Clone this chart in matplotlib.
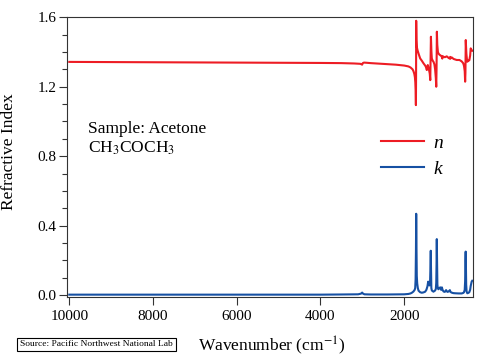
import matplotlib
matplotlib.use("Agg")
import matplotlib.pyplot as plt
from matplotlib.ticker import MultipleLocator, FixedLocator

plt.rcParams['font.family'] = ['Liberation Serif', 'DejaVu Serif']
plt.rcParams['mathtext.fontset'] = 'stix'

# ---- data (wavenumber in cm^-1) ----
n_wavenumber = [10000, 9000, 8000, 7000, 6000, 5000, 4000, 3500, 3200, 3050, 3020,
                3005, 2990, 2960, 2900, 2800, 2600, 2400, 2200, 2000, 1900, 1850,
                1800, 1780, 1760, 1745, 1735, 1727, 1721, 1717, 1714, 1708, 1700,
                1683, 1650, 1619, 1580, 1540, 1500, 1484, 1460, 1437, 1410, 1390,
                1378, 1372, 1362, 1350, 1341, 1320, 1302, 1280, 1262, 1245, 1235,
                1228, 1220, 1210, 1195, 1183, 1160, 1143, 1120, 1103, 1090, 1080,
                1064, 1030, 984, 940, 910, 903, 895, 865, 820, 746, 680, 627, 590,
                572, 555, 545, 538, 530, 525, 515, 503, 493, 470, 446, 425, 412,
                400, 389, 375]
n_values = [1.343, 1.342, 1.341, 1.340, 1.339, 1.338, 1.337, 1.336, 1.334, 1.332, 1.329,
            1.327, 1.336, 1.339, 1.338, 1.336, 1.333, 1.330, 1.327, 1.322, 1.317, 1.311,
            1.300, 1.290, 1.275, 1.255, 1.225, 1.180, 1.094, 1.250, 1.580, 1.470, 1.430,
            1.411, 1.385, 1.363, 1.350, 1.335, 1.322, 1.315, 1.296, 1.325, 1.300, 1.275,
            1.238, 1.330, 1.488, 1.400, 1.363, 1.350, 1.344, 1.330, 1.300, 1.250, 1.200,
            1.300, 1.517, 1.440, 1.400, 1.392, 1.385, 1.382, 1.378, 1.373, 1.362, 1.376,
            1.373, 1.370, 1.375, 1.366, 1.362, 1.372, 1.363, 1.369, 1.360, 1.354, 1.354,
            1.346, 1.335,
            1.320, 1.290, 1.229, 1.280, 1.469, 1.440, 1.390, 1.360, 1.344, 1.350, 1.352,
            1.380, 1.421, 1.415, 1.410, 1.408]

k_wavenumber = [10000, 9000, 8000, 7000, 6000, 5000, 4000, 3500, 3100, 3030, 3005,
                2985, 2950, 2800, 2400, 2000, 1900, 1850, 1817, 1780, 1750, 1738,
                1728, 1720, 1714, 1708, 1700, 1690, 1675, 1658, 1620, 1580, 1540,
                1500, 1470, 1445, 1428, 1412, 1395, 1382, 1372, 1366, 1360, 1352,
                1340, 1302, 1262, 1245, 1235, 1228, 1222, 1216, 1208, 1200, 1185,
                1160, 1140, 1120, 1100, 1085, 1060, 1030, 1000, 970, 940, 910, 895,
                870, 830, 785, 700, 627, 590, 572, 555, 545, 538, 532, 527, 520,
                510, 493, 470, 446, 425, 412, 400, 389, 375]
k_values = [0.002, 0.002, 0.002, 0.002, 0.002, 0.002, 0.002, 0.003, 0.004, 0.008, 0.014,
            0.008, 0.004, 0.003, 0.003, 0.004, 0.006, 0.009, 0.013, 0.020, 0.030, 0.040,
            0.090, 0.250, 0.468, 0.300, 0.110, 0.067, 0.040, 0.025, 0.016, 0.013, 0.015,
            0.019, 0.030, 0.050, 0.077, 0.060, 0.055, 0.080, 0.180, 0.255, 0.150, 0.040,
            0.026, 0.019, 0.026, 0.035, 0.070, 0.180, 0.322, 0.200, 0.060, 0.044, 0.033,
            0.040, 0.044, 0.030, 0.044, 0.030, 0.020, 0.018, 0.028, 0.018, 0.020, 0.028,
            0.018, 0.014, 0.011, 0.010, 0.009, 0.009, 0.012, 0.016, 0.030, 0.080, 0.200,
            0.250, 0.180, 0.060, 0.020, 0.010, 0.012, 0.016, 0.030, 0.052, 0.065, 0.077,
            0.082]

x_ticks = [10000, 8000, 6000, 4000, 2000]
y_ticks = [0.0, 0.4, 0.8, 1.2, 1.6]
series_labels = ['n', 'k']
series_colors = ['#ED1C24', '#1650A3']

fig = plt.figure(figsize=(4.8, 3.57), dpi=100)
ax = fig.add_axes([66.7 / 480, 1 - 296.7 / 357, (473.3 - 66.7) / 480, (296.7 - 16.5) / 357])

ax.plot(n_wavenumber, n_values, color=series_colors[0], lw=1.5, label=series_labels[0])
ax.plot(k_wavenumber, k_values, color=series_colors[1], lw=1.5, label=series_labels[1])

ax.set_xlim(10062, 350)
ax.set_ylim(-0.0098, 1.6046)

ax.xaxis.set_major_locator(FixedLocator(x_ticks))
ax.set_xticklabels([str(t) for t in x_ticks])
ax.yaxis.set_major_locator(FixedLocator(y_ticks))
ax.set_yticklabels([f"{t:.1f}" for t in y_ticks])
ax.yaxis.set_minor_locator(MultipleLocator(0.1))

spine_color = '#333333'
for s in ax.spines.values():
    s.set_color(spine_color)
    s.set_linewidth(0.8)
ax.tick_params(axis='both', which='major', direction='out', length=5.8, width=0.8,
               color=spine_color, labelsize=11)
ax.tick_params(axis='y', which='major', pad=1.5)
ax.tick_params(axis='x', which='major', pad=3.5)
ax.tick_params(axis='y', which='minor', direction='out', length=3.6, width=0.8, color=spine_color)
ax.tick_params(axis='x', which='minor', length=0)

ax.set_ylabel('Refractive Index', fontsize=12.5)
ax.yaxis.set_label_coords(-0.122, 0.516)
fig.text(271.5 / 480, 1 - 351.5 / 357, 'Wavenumber (cm$^{-1}$)', fontsize=12.5,
         ha='center', va='baseline')

ax.text(0.052, 0.584, 'Sample: Acetone', transform=ax.transAxes, fontsize=12.5, va='baseline')
ax.text(0.052, 0.513, 'CH$_3$COCH$_3$', transform=ax.transAxes, fontsize=12.5, va='baseline')

leg = ax.legend(loc='center left', bbox_to_anchor=((381 - 66.7) / 406.6, 0.502),
                frameon=False, borderaxespad=0, borderpad=0, handlelength=2.2,
                handletextpad=0.5, labelspacing=0.42,
                prop={'family': 'Liberation Serif', 'style': 'italic', 'size': 14})

fig.text(20 / 480, 1 - 344.5 / 357, 'Source: Pacific Northwest National Lab', fontsize=6.8,
         ha='left', va='center',
         bbox=dict(boxstyle='square,pad=0.3', facecolor='white', edgecolor='black', linewidth=0.8))

fig.savefig('out.png', dpi=100)
